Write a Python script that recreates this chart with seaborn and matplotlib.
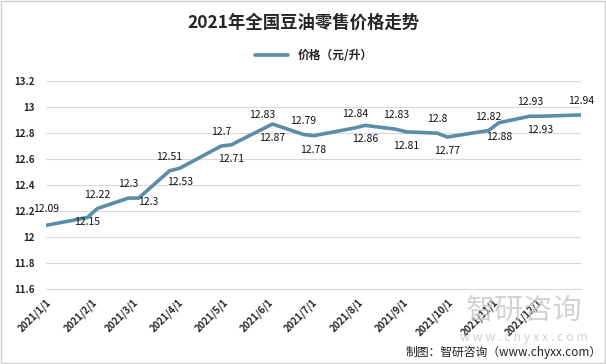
import pandas as pd
import matplotlib.pyplot as plt
from matplotlib.patches import Rectangle
import seaborn as sns

# 数据
dates = ['2021-01-01', '2021-01-29', '2021-02-05', '2021-02-26', '2021-03-05', '2021-03-26',
         '2021-04-02', '2021-04-30', '2021-05-07', '2021-05-28', '2021-06-04', '2021-06-25',
         '2021-07-02', '2021-07-30', '2021-08-06', '2021-08-27', '2021-09-03', '2021-09-24',
         '2021-10-01', '2021-10-29', '2021-11-05', '2021-11-26', '2021-12-03', '2021-12-31']
prices = [12.09, 12.15, 12.22, 12.3, 12.3, 12.51,
          12.53, 12.7, 12.71, 12.83, 12.87, 12.79,
          12.78, 12.84, 12.86, 12.83, 12.81, 12.8,
          12.77, 12.82, 12.88, 12.93, 12.93, 12.94]
tick_dates = ['2021-%02d-01' % m for m in range(1, 13)]
tick_labels = ['2021/%d/1' % m for m in range(1, 13)]
y_ticks = [11.6, 11.8, 12, 12.2, 12.4, 12.6, 12.8, 13, 13.2]

df = pd.DataFrame({'日期': pd.to_datetime(dates), '价格（元/升）': prices})

sns.set_style('white')
plt.rcParams['font.family'] = ['Noto Sans CJK SC', 'DejaVu Sans']
plt.rcParams['axes.unicode_minus'] = False

fig = plt.figure(figsize=(6.06, 3.64), dpi=100)
ax = fig.add_axes([0.076, 0.206, 0.883, 0.571])

line_color = '#5b8ea6'
sns.lineplot(data=df, x='日期', y='价格（元/升）', ax=ax, color=line_color,
             linewidth=2.6, label='价格（元/升）')

# 数据标签位置（1 在上，-1 在下）
label_side = [1, -1, 1, 1, -1, 1, -1, 1, -1, 1, -1, 1,
              -1, 1, -1, 1, -1, 1, -1, 1, -1, 1, -1, 1]
for i, (d, v) in enumerate(zip(df['日期'], df['价格（元/升）'])):
    dx = 0
    dy = 10 if label_side[i] > 0 else -10
    if i == 0:
        dy = 12
    if i == 1:
        dy = -3
    if i == 4:
        dx, dy = 7, -3
    ax.annotate('%g' % v, (d, v), xytext=(dx, dy), textcoords='offset points',
                ha='center', va='center', fontsize=7.5, color='#111111')

# 坐标轴
ax.set_ylim(11.6, 13.2)
ax.set_yticks(y_ticks)
ax.set_yticklabels(['%g' % t for t in y_ticks], fontsize=7, fontweight='bold')
ax.set_xlim(pd.Timestamp('2021-01-01'), pd.Timestamp('2021-12-31'))
ax.set_xticks(pd.to_datetime(tick_dates))
ax.set_xticklabels(tick_labels, rotation=45, ha='right', rotation_mode='anchor',
                   fontsize=7, fontweight='bold')
ax.set_xlabel('')
ax.set_ylabel('')
ax.grid(axis='y', color='#d9d9d9', linewidth=0.8)
for s in ['top', 'right', 'left']:
    ax.spines[s].set_visible(False)
ax.spines['bottom'].set_color('#d9d9d9')
ax.tick_params(axis='x', which='major', length=4, color='#d9d9d9', pad=2)
ax.tick_params(axis='y', length=0, pad=8)

# 标题和图例
fig.text(0.5, 0.937, '2021年全国豆油零售价格走势', ha='center', va='center',
         fontsize=12.5, fontweight='bold')
leg = ax.legend(loc='center', bbox_to_anchor=(0.5, 1.125), frameon=False,
                prop={'size': 8.5, 'weight': 'bold'}, handlelength=2.8)

# 水印和来源
fig.text(0.865, 0.145, '智研咨询', ha='center', va='center', fontsize=21,
         color='#c8c8c8', alpha=0.8)
fig.text(0.865, 0.074, 'w w w . c h y x x . c o m', ha='center', va='center',
         fontsize=9, color='#c8c8c8', alpha=0.8)
fig.text(0.993, 0.033, '制图：智研咨询（www.chyxx.com）', ha='right', va='center',
         fontsize=8.5, color='#222222')

fig.patches.append(Rectangle((0.002, 0.003), 0.996, 0.994, transform=fig.transFigure,
                             fill=False, edgecolor='#d0d0d0', linewidth=1))

plt.savefig('out.png', dpi=100)
